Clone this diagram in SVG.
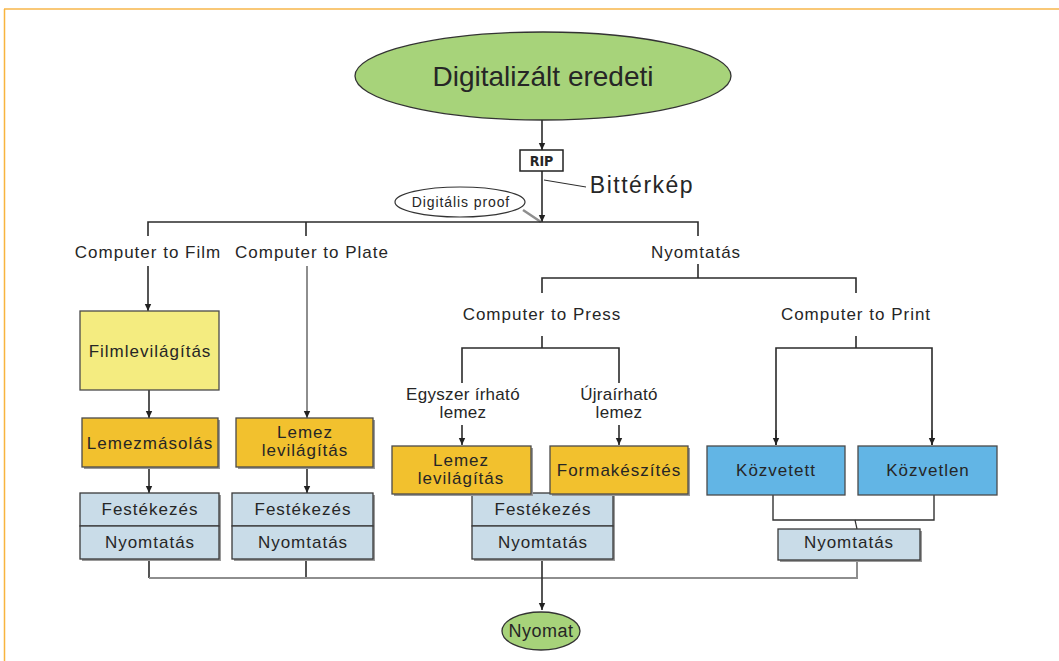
<svg xmlns="http://www.w3.org/2000/svg" width="1059" height="661" viewBox="0 0 1059 661">
<defs>
<marker id="arr" markerUnits="userSpaceOnUse" markerWidth="8" markerHeight="8" viewBox="0 0 8 8" refX="7" refY="4" orient="auto">
<path d="M0,0.8 L7,4 L0,7.2 Z" fill="#222"/>
</marker>
<style>
text{font-family:"Liberation Sans",Arial,sans-serif;fill:#262626;text-anchor:middle}
.lbl{font-size:17px;letter-spacing:1px}
.bx{font-size:17px;letter-spacing:1px}
.ln{fill:none;stroke:#2b2b2b;stroke-width:1.6}
.gl{fill:none;stroke:#8e8e8e;stroke-width:2}
.shadow{fill:#9a9a9a}
.film{fill:#F4EC80;stroke:#4a4a4a;stroke-width:1.3}
.gold{fill:#F2C12E;stroke:#4a4a4a;stroke-width:1.3}
.blue{fill:#62B5E5;stroke:#4a4a4a;stroke-width:1.3}
.pale{fill:#C9DCE8;stroke:#3a3a3a;stroke-width:1.3}
.green{fill:#A7D37A;stroke:#333;stroke-width:1.3}
</style>
</defs>
<rect width="1059" height="661" fill="#fff"/>
<g id="frame">
<line x1="4" y1="9" x2="1059" y2="9" stroke="#F9C877" stroke-width="2"/>
<line x1="4.5" y1="9" x2="4.5" y2="661" stroke="#F8B43F" stroke-width="1.5"/>
</g>

<g id="connectors">
<line class="ln" x1="542" y1="120" x2="542" y2="150" marker-end="url(#arr)"/>
<line class="ln" x1="542" y1="171" x2="542" y2="222" marker-end="url(#arr)"/>
<line x1="544" y1="180" x2="586" y2="187" stroke="#2b2b2b" stroke-width="1"/>
<line x1="523" y1="210" x2="541" y2="222" stroke="#8e8e8e" stroke-width="2.5"/>
<path class="ln" d="M148,236 V222 H698 V236 M306,222 V236"/>
<line class="ln" x1="148" y1="266" x2="148" y2="311" stroke="#555" marker-end="url(#arr)"/>
<line class="gl" x1="307" y1="266" x2="307" y2="418" marker-end="url(#arr)"/>
<line class="ln" x1="149" y1="390" x2="149" y2="418" marker-end="url(#arr)"/>
<line class="ln" x1="149" y1="467" x2="149" y2="493" marker-end="url(#arr)"/>
<line class="ln" x1="307" y1="467" x2="307" y2="493" marker-end="url(#arr)"/>
<path class="ln" d="M698,264 V278 M542,293 V278 H856 V293"/>
<path class="ln" d="M542,336 V348 M462,383 V348 H619 V383"/>
<line class="ln" x1="462" y1="425" x2="462" y2="445" marker-end="url(#arr)"/>
<line class="ln" x1="619" y1="425" x2="619" y2="445" marker-end="url(#arr)"/>
<path class="ln" d="M856,336 V348 M776,445 V348 H932 V445"/>
<line class="ln" x1="776" y1="430" x2="776" y2="445" marker-end="url(#arr)"/>
<line class="ln" x1="932" y1="430" x2="932" y2="445" marker-end="url(#arr)"/>
<path d="M773,495 V520 H934 V495" fill="none" stroke="#333" stroke-width="1.4"/>
<line x1="855" y1="520" x2="857" y2="529" stroke="#333" stroke-width="1.2"/>
<path class="ln" d="M149,560 V578 M306,560 V578"/>
<path class="gl" d="M149,578 H857 V560"/>
<line class="ln" x1="542" y1="560" x2="542" y2="610" marker-end="url(#arr)"/>
</g>

<g id="n-digitalizalt">
<ellipse class="green" cx="543" cy="76" rx="188" ry="44"/>
<text x="543" y="86" style="font-size:28px">Digitalizált eredeti</text>
</g>
<g id="n-rip">
<rect x="520" y="150" width="43" height="21" fill="#fff" stroke="#222" stroke-width="1.5"/>
<text x="541.5" y="166" style="font-size:14px;font-weight:bold;font-family:'Liberation Sans Narrow','DejaVu Sans Condensed',sans-serif">RIP</text>
</g>
<g id="n-bitterkep">
<text x="642" y="193" style="font-size:23px;letter-spacing:1.5px">Bittérkép</text>
</g>
<g id="n-proof">
<ellipse cx="460" cy="202" rx="65" ry="15" fill="#fff" stroke="#333" stroke-width="1.2"/>
<text x="461" y="207" style="font-size:14px;letter-spacing:0.9px">Digitális proof</text>
</g>

<g id="n-ctfilm"><text class="lbl" x="148" y="258">Computer to Film</text></g>
<g id="n-ctplate"><text class="lbl" x="312" y="258">Computer to Plate</text></g>
<g id="n-nyomtatas-top"><text class="lbl" x="696" y="258">Nyomtatás</text></g>
<g id="n-ctpress"><text class="lbl" x="542" y="320">Computer to Press</text></g>
<g id="n-ctprint"><text class="lbl" x="856" y="320">Computer to Print</text></g>
<g id="n-egyszer"><text class="lbl" x="463" y="400" style="letter-spacing:0.3px">Egyszer írható</text><text class="lbl" x="463" y="418" style="letter-spacing:0.3px">lemez</text></g>
<g id="n-ujrairhato"><text class="lbl" x="619" y="400" style="letter-spacing:0.3px">Újraírható</text><text class="lbl" x="619" y="418" style="letter-spacing:0.3px">lemez</text></g>

<g id="n-filmlevilagitas">
<rect class="film" x="80" y="311" width="139" height="79"/>
<text class="bx" x="150" y="357">Filmlevilágítás</text>
</g>
<g id="n-lemezmasolas">
<rect class="shadow" x="84" y="420" width="136" height="49"/>
<rect class="gold" x="82" y="418" width="136" height="49"/>
<text class="bx" x="150" y="449">Lemezmásolás</text>
</g>
<g id="n-lemez1">
<rect class="shadow" x="238" y="420" width="137" height="49"/>
<rect class="gold" x="236" y="418" width="137" height="49"/>
<text class="bx" x="305" y="438">Lemez</text>
<text class="bx" x="305" y="456">levilágítás</text>
</g>

<g id="n-fest1">
<rect class="shadow" x="82" y="495" width="139" height="66"/>
<rect class="pale" x="80" y="493" width="139" height="33"/>
<rect class="pale" x="80" y="526" width="139" height="33"/>
<text class="bx" x="150" y="515">Festékezés</text>
<text class="bx" x="150" y="548">Nyomtatás</text>
</g>
<g id="n-fest2">
<rect class="shadow" x="234" y="495" width="141" height="66"/>
<rect class="pale" x="232" y="493" width="141" height="33"/>
<rect class="pale" x="232" y="526" width="141" height="33"/>
<text class="bx" x="303" y="515">Festékezés</text>
<text class="bx" x="303" y="548">Nyomtatás</text>
</g>
<g id="n-fest3">
<rect class="shadow" x="474" y="495" width="141" height="66"/>
<rect class="pale" x="472" y="493" width="141" height="33"/>
<rect class="pale" x="472" y="526" width="141" height="33"/>
<text class="bx" x="543" y="515">Festékezés</text>
<text class="bx" x="543" y="548">Nyomtatás</text>
</g>

<g id="n-lemez2">
<rect class="shadow" x="394" y="448" width="139" height="48"/>
<rect class="gold" x="392" y="446" width="139" height="48"/>
<text class="bx" x="461" y="466">Lemez</text>
<text class="bx" x="461" y="484">levilágítás</text>
</g>
<g id="n-formakeszites">
<rect class="shadow" x="552" y="448" width="138" height="48"/>
<rect class="gold" x="550" y="446" width="138" height="48"/>
<text class="bx" x="619" y="476">Formakészítés</text>
</g>
<g id="n-kozvetett">
<rect class="blue" x="707" y="446" width="138" height="49"/>
<text class="bx" x="776" y="476">Közvetett</text>
</g>
<g id="n-kozvetlen">
<rect class="blue" x="858" y="446" width="139" height="49"/>
<text class="bx" x="928" y="476">Közvetlen</text>
</g>
<g id="n-nyomtatas-right">
<rect class="shadow" x="780" y="531" width="142" height="31"/>
<rect class="pale" x="778" y="529" width="142" height="31"/>
<text class="bx" x="849" y="548">Nyomtatás</text>
</g>
<g id="n-nyomat">
<ellipse class="green" cx="541" cy="631" rx="39" ry="19"/>
<text x="541" y="637" style="font-size:18px;letter-spacing:0.5px">Nyomat</text>
</g>
</svg>
